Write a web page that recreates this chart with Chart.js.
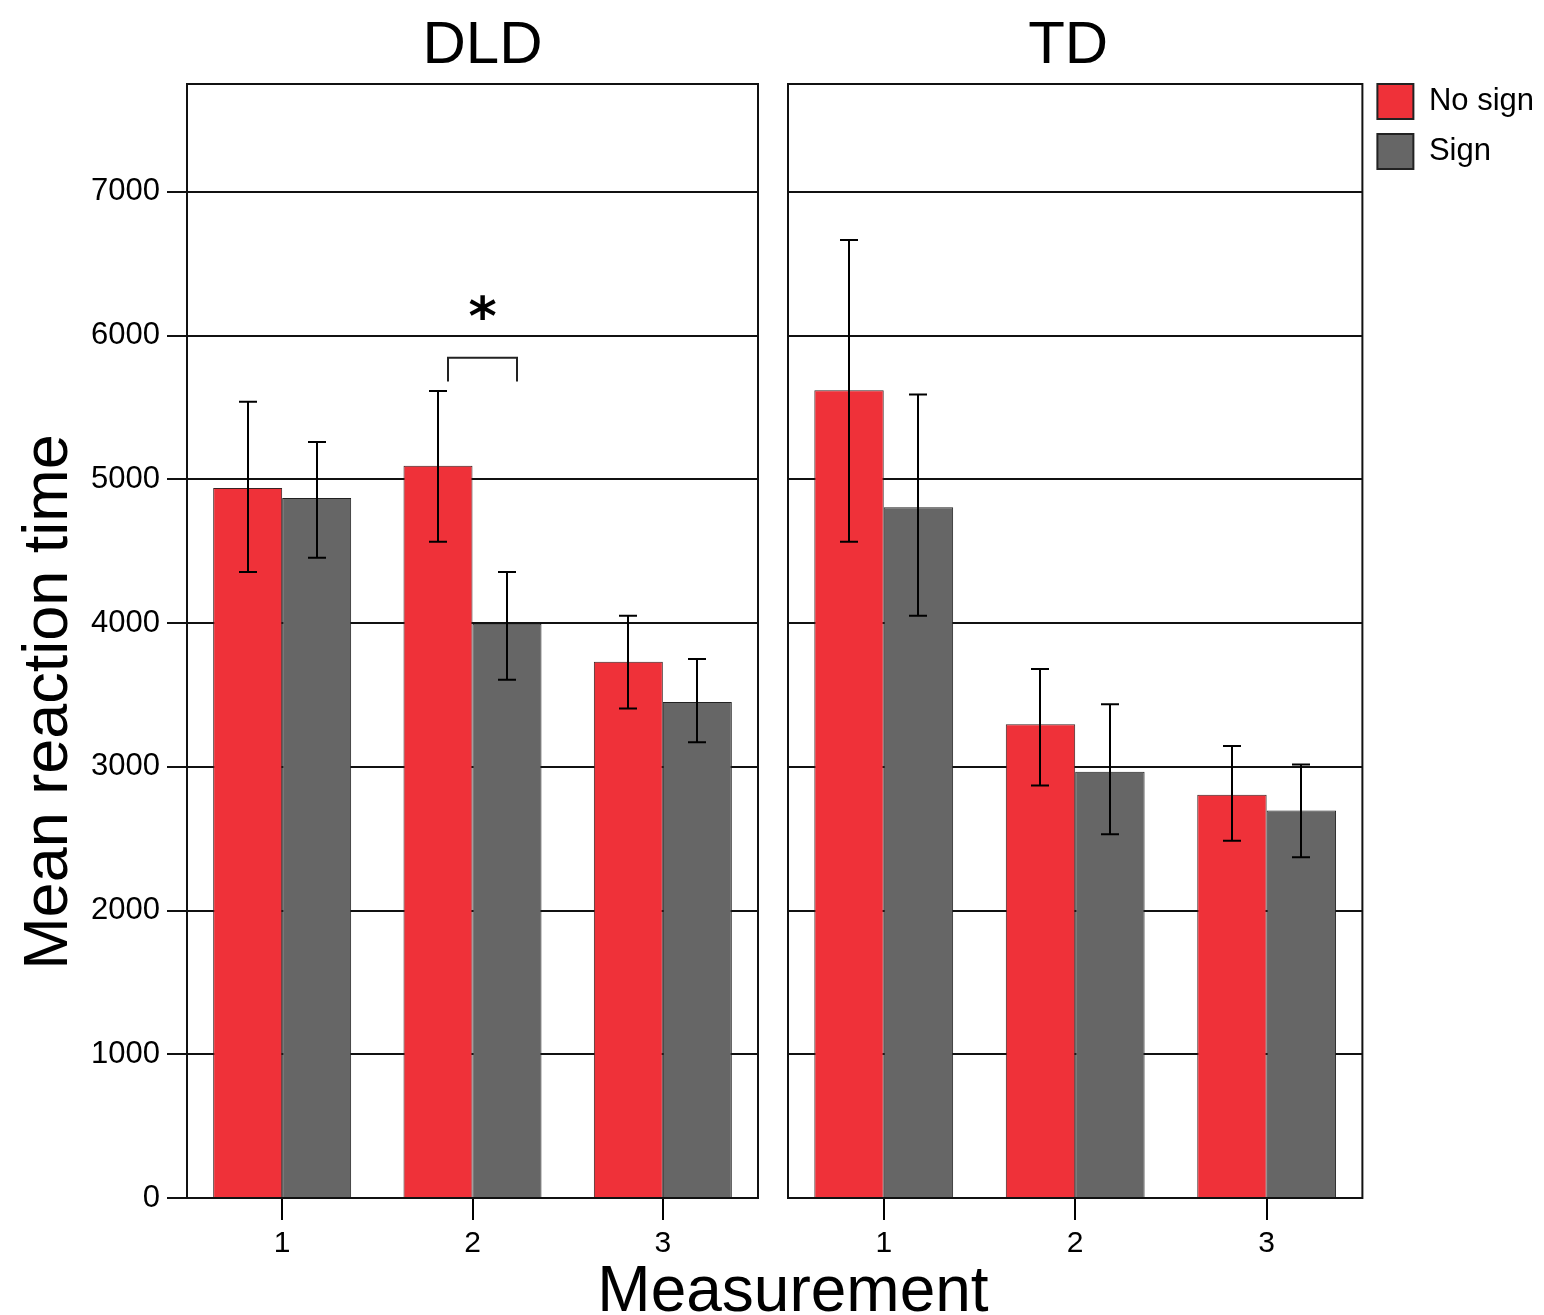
<!DOCTYPE html>
<html>
<head>
<meta charset="utf-8">
<script src="https://cdn.jsdelivr.net/npm/chart.js@4.4.0/dist/chart.umd.min.js"></script>
<style>
  html, body { margin: 0; padding: 0; background: #fff; overflow: hidden; width: 1544px; height: 1315px; }
  #wrap { position: relative; width: 1544px; height: 1315px; }
  #cA { position: absolute; left: 0; top: 0; }
  #cB { position: absolute; left: 770px; top: 0; }
  #xtitle { position: absolute; left: 543px; width: 500px; top: 1258px; text-align: center;
    font-family: "Liberation Sans", Arial, sans-serif; font-size: 64px; line-height: 63px; color: #000; white-space: nowrap; }
</style>
</head>
<body>
<div id="wrap">
  <canvas id="cA" width="770" height="1315"></canvas>
  <canvas id="cB" width="774" height="1315"></canvas>
  <div id="xtitle">Measurement</div>
</div>
<script>
// ---------------- data ----------------
const categories = ['1', '2', '3'];
const seriesNames = ['No sign', 'Sign'];
const panelTitles = ['DLD', 'TD'];
const yAxisTitle = 'Mean reaction time';
const yTickValues = [0, 1000, 2000, 3000, 4000, 5000, 6000, 7000];
const yMax = 7750;

const dldNoSign      = [4940, 5095, 3730];
const dldNoSignLow   = [4355, 4565, 3405];
const dldNoSignHigh  = [5540, 5615, 4050];
const dldSign        = [4870, 3995, 3450];
const dldSignLow     = [4455, 3605, 3170];
const dldSignHigh    = [5260, 4355, 3750];

const tdNoSign       = [5620, 3295, 2805];
const tdNoSignLow    = [4565, 2870, 2485];
const tdNoSignHigh   = [6665, 3680, 3145];
const tdSign         = [4805, 2965, 2695];
const tdSignLow      = [4050, 2530, 2370];
const tdSignHigh     = [5590, 3435, 3015];

// significance marker (DLD panel, measurement 2)
const sigCategory = 1;
const sigBracketTop = 5845;
const sigBracketTip = 5680;
const sigLabel = '*';
const sigLabelValue = 6197;

// ---------------- styles ----------------
const RED = '#EF3139';
const GRAY = '#666666';
const FONT = '"Liberation Sans", Arial, sans-serif';

const errorBars = {
  id: 'errorBars',
  afterDatasetsDraw(chart) {
    const { ctx } = chart;
    const y = chart.scales.y;
    ctx.save();
    ctx.strokeStyle = '#000';
    ctx.lineWidth = 2;
    chart.data.datasets.forEach((ds, i) => {
      if (!ds.errorLow) return;
      const meta = chart.getDatasetMeta(i);
      meta.data.forEach((bar, j) => {
        const x = Math.round(bar.x);
        const yl = y.getPixelForValue(ds.errorLow[j]);
        const yh = y.getPixelForValue(ds.errorHigh[j]);
        const cap = 9;
        ctx.beginPath();
        ctx.moveTo(x, yl); ctx.lineTo(x, yh);
        ctx.moveTo(x - cap, yh); ctx.lineTo(x + cap, yh);
        ctx.moveTo(x - cap, yl); ctx.lineTo(x + cap, yl);
        ctx.stroke();
      });
    });
    ctx.restore();
  }
};

const panelDeco = {
  id: 'panelDeco',
  afterDraw(chart, args, opts) {
    const { ctx, chartArea: a } = chart;
    ctx.save();
    ctx.strokeStyle = '#111';
    ctx.lineWidth = 2;
    ctx.strokeRect(a.left, a.top, a.right - a.left, a.bottom - a.top);
    ctx.fillStyle = '#000';
    ctx.font = '60px ' + FONT;
    ctx.textAlign = 'center';
    ctx.textBaseline = 'alphabetic';
    ctx.fillText(opts.title, (a.left + a.right) / 2 + (opts.titleShift || 0), 63);
    if (opts.yTitle) {
      ctx.save();
      ctx.translate(67, 702);
      ctx.rotate(-Math.PI / 2);
      ctx.font = '63px ' + FONT;
      ctx.textAlign = 'center';
      ctx.fillText(opts.yTitle, 0, 0);
      ctx.restore();
    }
    if (opts.sig) {
      const y = chart.scales.y;
      const b0 = chart.getDatasetMeta(0).data[sigCategory];
      const b1 = chart.getDatasetMeta(1).data[sigCategory];
      const xl = Math.round(b0.x) + 10, xr = Math.round(b1.x) + 10;
      const yt = y.getPixelForValue(sigBracketTop), yb = y.getPixelForValue(sigBracketTip);
      ctx.beginPath();
      ctx.moveTo(xl, yb); ctx.lineTo(xl, yt); ctx.lineTo(xr, yt); ctx.lineTo(xr, yb);
      ctx.strokeStyle = '#222';
      ctx.stroke();
      ctx.font = 'bold 54px "DejaVu Sans", sans-serif';
      ctx.textAlign = 'center';
      const m = ctx.measureText(sigLabel);
      const yc = y.getPixelForValue(sigLabelValue);
      ctx.fillText(sigLabel, (xl + xr) / 2, yc + (m.actualBoundingBoxAscent - m.actualBoundingBoxDescent) / 2);
    }
    ctx.restore();
  }
};

function makeChart(id, cfg) {
  const scales = {
    x: {
      grid: { display: true, drawOnChartArea: false, offset: false, color: '#000', lineWidth: 2, tickLength: 22 },
      border: { display: true, color: '#111', width: 2 },
      ticks: { color: '#000', font: { size: 30, family: FONT }, padding: 6, maxRotation: 0 },
      afterFit(s) { s.height = 117; }
    },
    y: {
      min: 0, max: yMax,
      afterBuildTicks(s) { s.ticks = yTickValues.map(v => ({ value: v })); },
      ticks: { display: cfg.showYTicks, color: '#000', font: { size: 31, family: FONT }, padding: 7,
        callback: v => String(v) },
      grid: { color: '#111', lineWidth: 2, tickLength: 20, drawTicks: cfg.showYTicks },
      border: { display: true, color: '#111', width: 2 },
      afterFit(s) { s.width = cfg.yWidth; }
    }
  };
  if (cfg.topSpacer) {
    scales.xTop = {
      type: 'category', position: 'top', display: true,
      grid: { display: false }, ticks: { display: false }, border: { display: false },
      afterFit(s) { s.height = cfg.topSpacer; }
    };
  }
  return new Chart(document.getElementById(id), {
    type: 'bar',
    data: {
      labels: categories,
      datasets: [
        { label: seriesNames[0], data: cfg.noSign, errorLow: cfg.noSignLow, errorHigh: cfg.noSignHigh,
          backgroundColor: RED, borderColor: '#3a2222', borderWidth: 1 },
        { label: seriesNames[1], data: cfg.sign, errorLow: cfg.signLow, errorHigh: cfg.signHigh,
          backgroundColor: GRAY, borderColor: '#222222', borderWidth: 1 }
      ]
    },
    options: {
      responsive: false,
      animation: false,
      devicePixelRatio: 1,
      layout: { padding: { top: cfg.padTop, right: cfg.padRight, left: 0, bottom: 0 } },
      datasets: { bar: { categoryPercentage: 0.725, barPercentage: 1 } },
      scales,
      plugins: {
        legend: cfg.legend ? {
          display: true, position: 'right', align: 'start',
          labels: {
            color: '#000', font: { size: 31, family: FONT }, boxWidth: 36, boxHeight: 35, padding: 15,
            generateLabels(chart) {
              const items = Chart.defaults.plugins.legend.labels.generateLabels(chart);
              items.forEach(it => { it.lineWidth = 2; it.strokeStyle = '#222'; });
              return items;
            }
          }
        } : { display: false },
        tooltip: { enabled: false },
        panelDeco: { title: cfg.title, yTitle: cfg.yTitle, sig: cfg.sig, titleShift: cfg.titleShift }
      }
    },
    plugins: [errorBars, panelDeco]
  });
}

makeChart('cA', {
  noSign: dldNoSign, noSignLow: dldNoSignLow, noSignHigh: dldNoSignHigh,
  sign: dldSign, signLow: dldSignLow, signHigh: dldSignHigh,
  title: panelTitles[0], yTitle: yAxisTitle, sig: true, titleShift: 10,
  showYTicks: true, yWidth: 187, padTop: 84, padRight: 12, legend: false
});

makeChart('cB', {
  noSign: tdNoSign, noSignLow: tdNoSignLow, noSignHigh: tdNoSignHigh,
  sign: tdSign, signLow: tdSignLow, signHigh: tdSignHigh,
  title: panelTitles[1], yTitle: null, sig: false, titleShift: -7,
  showYTicks: false, yWidth: 18, padTop: 69, topSpacer: 15, padRight: 0, legend: true
});
</script>
</body>
</html>
